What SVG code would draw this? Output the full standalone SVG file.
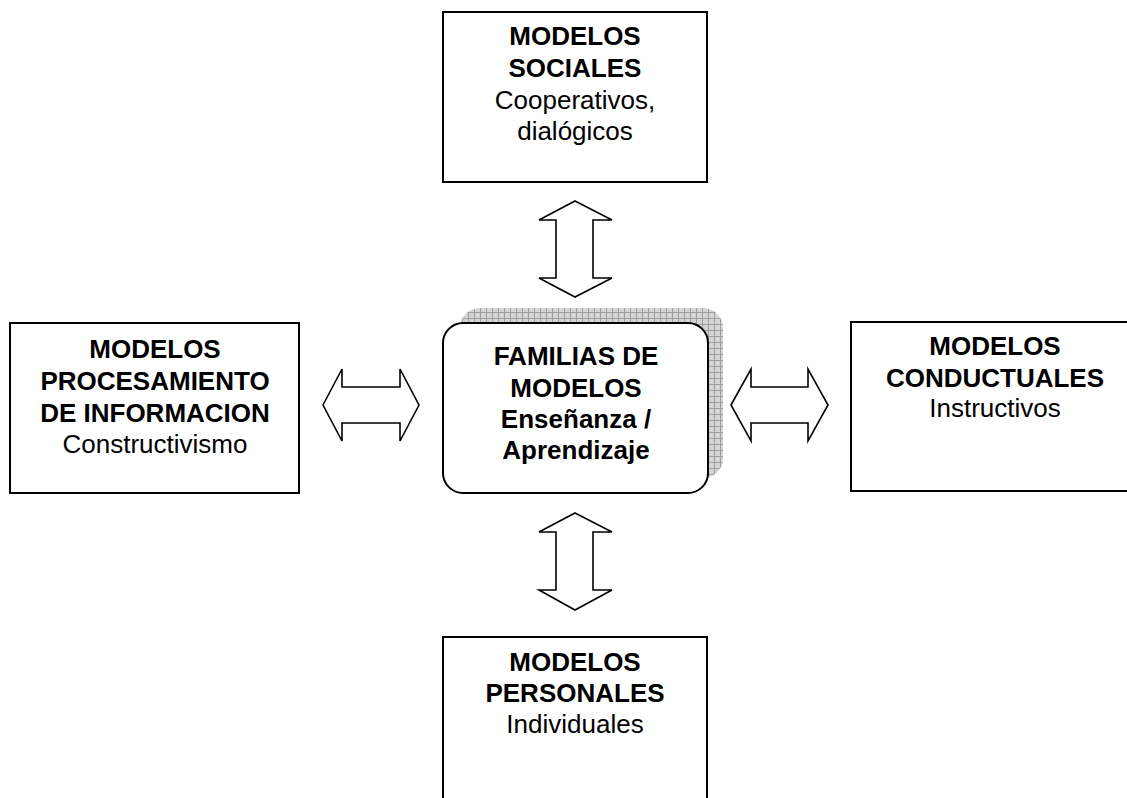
<svg xmlns="http://www.w3.org/2000/svg" width="1127" height="798" viewBox="0 0 1127 798">
<style>
.box{fill:#fff;stroke:#000;stroke-width:2}
.arr{fill:#fff;stroke:#000;stroke-width:1.6;stroke-linejoin:miter}
text{font-family:"Liberation Sans",Arial,sans-serif;font-size:26px;text-anchor:middle;fill:#000}
.b{font-weight:bold}
</style>
<defs>
<pattern id="grid" width="6" height="6" patternUnits="userSpaceOnUse">
<rect width="6" height="6" fill="#d4d4d4"/>
<path d="M0 0.5H6M0.5 0V6" stroke="#9a9a9a" stroke-width="0.9"/>
</pattern>
</defs>
<rect width="1127" height="798" fill="#fff"/>
<g id="connectors">
<polygon class="arr" points="575,201 612,220 593,220 593,278 612,278 575,297 539,278 556,278 556,220 539,220"/>
<polygon class="arr" points="575,513 612,532 593,532 593,590 612,590 575,610 539,590 556,590 556,532 539,532"/>
<polygon class="arr" points="323,405 342,369 342,387 400,387 400,369 419,405 400,441 400,423 342,423 342,441"/>
<polygon class="arr" points="731,405 751,369 751,387 808,387 808,369 828,405 808,441 808,423 751,423 751,441"/>
</g>
<g id="sociales">
<rect class="box" x="443" y="12" width="264" height="170"/>
<text x="575" y="45" class="b">MODELOS</text>
<text x="575" y="77" class="b">SOCIALES</text>
<text x="575" y="109">Cooperativos,</text>
<text x="575" y="140">dialógicos</text>
</g>
<g id="procesamiento">
<rect class="box" x="10" y="323" width="289" height="170"/>
<text x="155" y="358" class="b">MODELOS</text>
<text x="155" y="390" class="b">PROCESAMIENTO</text>
<text x="155" y="422" class="b">DE INFORMACION</text>
<text x="155" y="453">Constructivismo</text>
</g>
<g id="familias">
<rect x="460" y="308" width="263" height="170" rx="20" fill="url(#grid)"/>
<rect class="box" x="443" y="323" width="265" height="170" rx="20"/>
<text x="576" y="365" class="b">FAMILIAS DE</text>
<text x="576" y="397" class="b">MODELOS</text>
<text x="576" y="428" class="b">Enseñanza /</text>
<text x="576" y="459" class="b">Aprendizaje</text>
</g>
<g id="conductuales">
<rect class="box" x="851" y="322" width="289" height="169"/>
<text x="995" y="355" class="b">MODELOS</text>
<text x="995" y="387" class="b">CONDUCTUALES</text>
<text x="995" y="417">Instructivos</text>
</g>
<g id="personales">
<rect class="box" x="443" y="637" width="264" height="170"/>
<text x="575" y="671" class="b">MODELOS</text>
<text x="575" y="702" class="b">PERSONALES</text>
<text x="575" y="733">Individuales</text>
</g>
</svg>
